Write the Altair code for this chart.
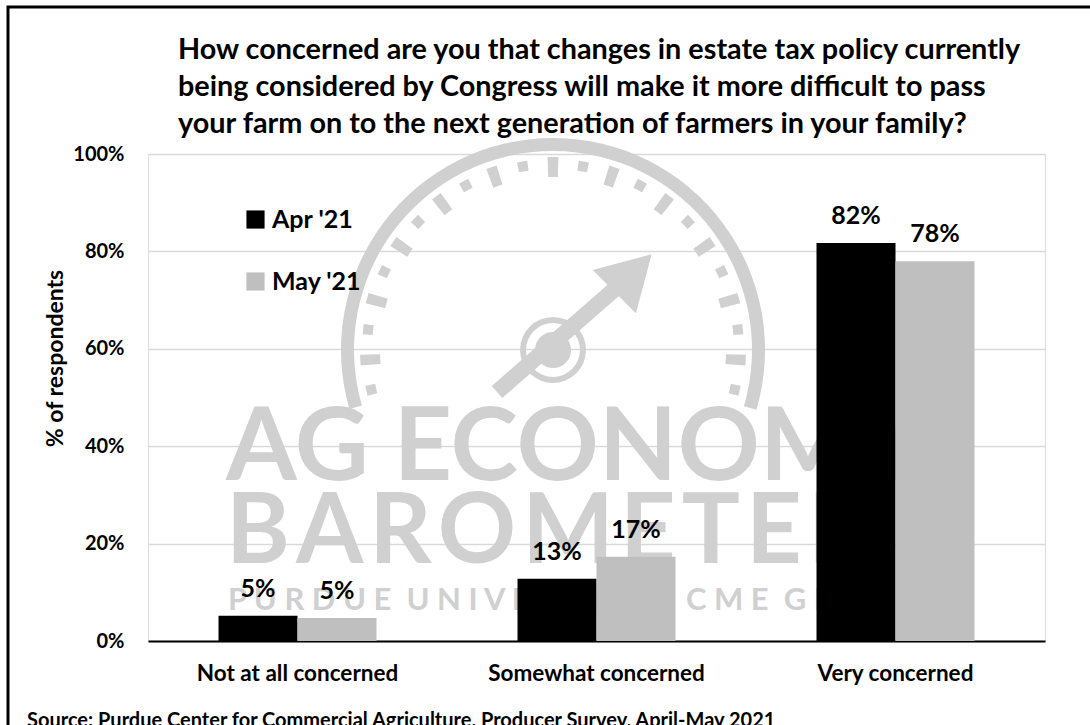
import math
import altair as alt
import pandas as pd

# ---- data ----
categories = ["Not at all concerned", "Somewhat concerned", "Very concerned"]
series = ["Apr '21", "May '21"]
apr_values = [5.2, 12.8, 81.7]
may_values = [4.7, 17.3, 78.0]
colors = ["#000000", "#bfbfbf"]
y_ticks = [0, 20, 40, 60, 80, 100]
title_lines = [
    "How concerned are you that changes in estate tax policy currently",
    "being considered by Congress will make it more difficult to pass",
    "your farm on to the next generation of farmers in your family?",
]
source_text = "Source: Purdue Center for Commercial Agriculture, Producer Survey, April-May 2021"

rows = []
for c, a, m in zip(categories, apr_values, may_values):
    rows.append({"category": c, "series": series[0], "value": a})
    rows.append({"category": c, "series": series[1], "value": m})
df = pd.DataFrame(rows)
df["label"] = df["value"].round(0).astype(int).astype(str) + "%"

FONT = "Lato"
WM = "#d0d0d0"
one = pd.DataFrame({"k": [0]})
NB = "\u00a0"
HAIR = "\u200a"

x_enc = alt.X(
    "category:N",
    sort=categories,
    scale=alt.Scale(paddingInner=0.4716, paddingOuter=0.2358),
    axis=alt.Axis(
        title=None, labelAngle=0, labelFont=FONT, labelFontSize=22.5,
        labelFontWeight="bold", labelColor="black", labelPadding=21, labelLimit=500,
        ticks=False, domainColor="black", domainWidth=2, grid=False,
    ),
)
y_enc = alt.Y(
    "value:Q",
    scale=alt.Scale(domain=[0, 100], nice=False),
    axis=alt.Axis(
        values=y_ticks, labelExpr="datum.value + '%'", title="% of respondents",
        labelFont=FONT, labelFontSize=20, labelFontWeight="bold", labelColor="black",
        labelPadding=24, ticks=False, domain=False, gridColor="#d9d9d9", gridWidth=1.5,
        titleFont=FONT, titleFontSize=23, titleFontWeight="bold", titleColor="black",
        titleAngle=270, titleAlign="center", titleBaseline="middle",
        titleX=-93, titleY=204,
    ),
)
xoff = alt.XOffset("series:N", sort=series, scale=alt.Scale(paddingInner=0))

bars = alt.Chart(df).mark_bar().encode(
    x=x_enc,
    y=y_enc,
    xOffset=xoff,
    color=alt.Color(
        "series:N",
        sort=series,
        scale=alt.Scale(domain=series, range=colors),
        legend=alt.Legend(
            title=None, orient="none", legendX=95, legendY=53,
            symbolType="square", symbolSize=330, symbolStrokeWidth=0,
            symbolOpacity=1, labelFont=FONT, labelFontSize=25,
            labelFontWeight="bold", labelColor="black", rowPadding=36,
            labelOffset=4, padding=0,
        ),
    ),
)

labels = alt.Chart(df).mark_text(
    font=FONT, fontSize=25, fontWeight="bold", color="black",
    baseline="alphabetic", dy=-19,
).encode(
    x=alt.X("category:N", sort=categories),
    y=alt.Y("value:Q"),
    xOffset=alt.XOffset("series:N", sort=series),
    text="label:N",
)

# ---- decorative frame, title, source and watermark ----
border = alt.Chart(one).mark_rect(
    fill="transparent", stroke="black", strokeWidth=3
).encode(
    x=alt.value(-140), x2=alt.value(1100), y=alt.value(-147), y2=alt.value(700)
)

title = alt.Chart(one).mark_text(
    text=title_lines, font=FONT, fontSize=28.8, fontWeight="bold", color="black",
    align="left", baseline="top", lineHeight=37,
).encode(x=alt.value(30), y=alt.value(-118))

CX, CY = 405, 196
wm_ring = alt.Chart(one).mark_arc(
    radius=212, radius2=199, theta=4.43, theta2=8.14, color=WM
).encode(x=alt.value(CX), y=alt.value(CY))

# gauge tick dashes of the watermark logo (decoration)
tick_rows = []
for k in range(-11, 12):
    c = math.radians(9.3 * k) + 2 * math.pi
    long = (k % 2 == 0)
    hw = 0.028 if long else 0.027
    tick_rows.append({
        "t0": c - hw, "t1": c + hw,
        "r0": 193 if long else 191, "r1": 173 if long else 181,
    })
wm_ticks = alt.Chart(pd.DataFrame(tick_rows)).mark_arc(color=WM).encode(
    theta=alt.Theta("t0:Q", scale=None), theta2="t1:Q",
    radius=alt.Radius("r0:Q", scale=None), radius2="r1:Q",
    x=alt.value(CX), y=alt.value(CY),
)
wm_hub_ring = alt.Chart(one).mark_arc(
    radius=33, radius2=27, theta=0, theta2=6.2832, color=WM
).encode(x=alt.value(CX), y=alt.value(CY))
wm_hub = alt.Chart(one).mark_point(
    shape="circle", filled=True, size=1300, color=WM, opacity=1
).encode(x=alt.value(CX), y=alt.value(CY))
wm_needle = alt.Chart(one).mark_rule(
    color=WM, strokeWidth=16
).encode(x=alt.value(349), y=alt.value(238), x2=alt.value(468), y2=alt.value(134))
wm_head = alt.Chart(one).mark_point(
    shape="triangle-up", filled=True, size=3721, angle=45, color=WM, opacity=1
).encode(x=alt.value(485), y=alt.value(119))

wm_text1 = alt.Chart(one).mark_text(
    text="AG ECONOMY", font=FONT, fontSize=102, fontWeight="bold", color=WM,
    align="left", baseline="alphabetic",
).encode(x=alt.value(78), y=alt.value(326))
wm_text2 = alt.Chart(one).mark_text(
    text=HAIR.join("BAROMETER"), font=FONT, fontSize=97, fontWeight="bold", color=WM,
    align="left", baseline="alphabetic",
).encode(x=alt.value(78), y=alt.value(409))
wm_line3 = NB.join("PURDUE") + NB * 2 + NB.join("UNIVERSITY") + NB * 2 + "|" + NB * 2 \
    + NB.join("CME") + NB * 2 + NB.join("GROUP")
wm_text3 = alt.Chart(one).mark_text(
    text=wm_line3, font=FONT, fontSize=31, fontWeight="bold",
    color=WM, align="left", baseline="alphabetic",
).encode(x=alt.value(80), y=alt.value(456))

source = alt.Chart(one).mark_text(
    text=source_text, font=FONT, fontSize=20, fontWeight="bold", color="black",
    align="left", baseline="alphabetic",
).encode(x=alt.value(-121), y=alt.value(573))

chart = alt.layer(
    border, wm_ring, wm_ticks, wm_hub_ring, wm_hub, wm_needle, wm_head,
    wm_text1, wm_text2, wm_text3,
    bars, labels, title, source,
).properties(
    width=897,
    height=487,
    padding={"left": 148, "top": 154, "right": 45, "bottom": 84},
    autosize=alt.AutoSizeParams(type="none"),
).configure_view(stroke=None).configure(background="white")

chart.save("out.html", embed_options={"renderer": "svg", "actions": False})
